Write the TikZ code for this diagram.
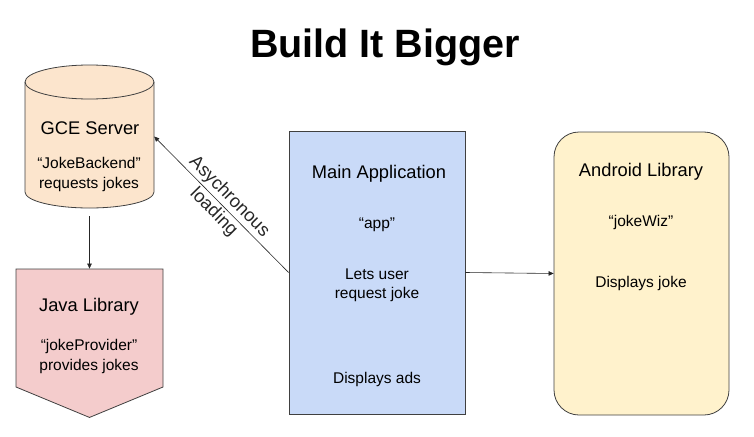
\documentclass[tikz,border=0pt]{standalone}
\usepackage{fontspec}
\setmainfont{Liberation Sans}
\usetikzlibrary{shapes.symbols,arrows.meta}
\definecolor{serverfill}{HTML}{FCE5CD}
\definecolor{javafill}{HTML}{F4CCCC}
\definecolor{appfill}{HTML}{C9DAF8}
\definecolor{droidfill}{HTML}{FFF2CC}
\begin{document}
\begin{tikzpicture}[x=1pt,y=-1pt]
        \tikzstyle{box}=[draw=black!75,line width=0.8pt,inner sep=0pt]
        \tikzstyle{head}=[font=\fontsize{18.3}{22}\selectfont,align=center]
        \tikzstyle{txt}=[font=\fontsize{15.5}{19.5}\selectfont,align=center]
        \tikzstyle{link}=[-{Triangle[length=5pt,width=4.5pt]},black!85,line width=0.6pt]
      \useasboundingbox (0,0) rectangle (754,436);

      \begin{scope}
         \node[font=\bfseries\fontsize{39.5}{44}\selectfont,anchor=base] (title) at (385,58) {Build It Bigger};

         % server drum
         \node[inner sep=0pt,minimum width=129,minimum height=143] (gce) at (89.5,136.5) {};
         \draw[box,fill=serverfill] (25,82) -- (25,192)
              arc[start angle=180,end angle=0,x radius=64.5,y radius=16] -- (154,82)
              arc[start angle=0,end angle=-180,x radius=64.5,y radius=17] -- cycle;
         \draw[box] (25,82) arc[start angle=180,end angle=0,x radius=64.5,y radius=17];
         \node[head] (gcename) at (90,128) {GCE Server};
         \node[txt]  (gcetxt)  at (89,174.5) {``JokeBackend''\\requests jokes};

         \node[box,signal,signal to=south,signal pointer angle=135,fill=javafill,
               minimum width=147,minimum height=118] (java) at (89.5,328) {};
         \node[head] (javaname) at (89,307) {Java Library};
         \node[txt]  (javatxt)  at (89,356.5) {``jokeProvider''\\provides jokes};

         \node[box,rectangle,fill=appfill,minimum width=176,minimum height=283] (app) at (377,272.5) {};
         \node[head] (appname) at (379,174) {Main Application};
         \node[txt]  (appid)   at (377,225) {``app''};
         \node[txt]  (appreq)  at (377,285.5) {Lets user\\request joke};
         \node[txt]  (appads)  at (377,379) {Displays ads};

         \node[box,rectangle,rounded corners=25,fill=droidfill,minimum width=175,minimum height=283] (droid) at (641.5,273.5) {};
         \node[head] (droidname) at (641,172) {Android Library};
         \node[txt]  (droidid)   at (641,222) {``jokeWiz''};
         \node[txt]  (droidshow) at (641,283) {Displays joke};

         \draw[link,shorten <=8pt] (gce.south) to (java.north);
         \draw[link] (app.west) to node[head,sloped] {Asychronous\\loading} (gce.east);
         \draw[link] (app.east) to (droid.west);
      \end{scope}
    \end{tikzpicture}
\end{document}
